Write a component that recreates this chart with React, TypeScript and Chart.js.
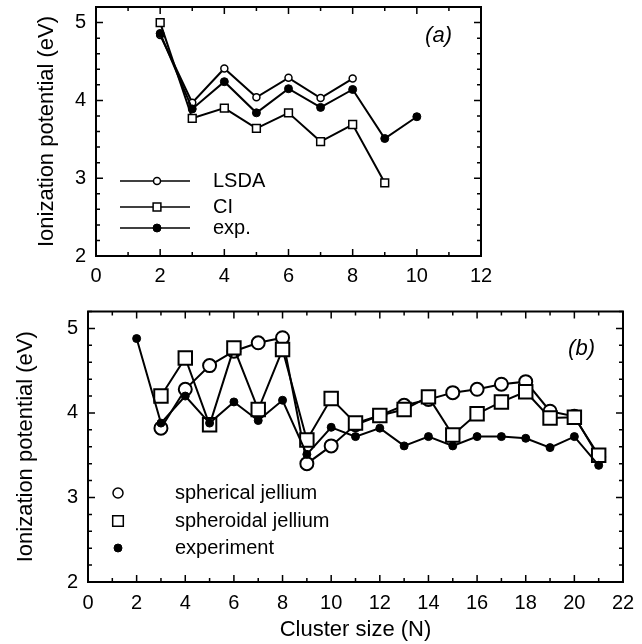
import React, { useEffect, useRef } from 'react';
import { Chart, registerables } from 'chart.js';

Chart.register(...registerables);

const FONT = '"Liberation Sans", Arial, Helvetica, sans-serif';

// ---------- Panel (a) ----------
const N_A = [2, 3, 4, 5, 6, 7, 8, 9, 10];
const LSDA = [4.84, 3.97, 4.41, 4.04, 4.29, 4.03, 4.28, null, null];
const CI = [5.0, 3.77, 3.9, 3.64, 3.84, 3.47, 3.69, 2.94, null];
const EXP_A = [4.86, 3.89, 4.24, 3.84, 4.15, 3.91, 4.14, 3.51, 3.79];
const X_TICKS_A = [0, 2, 4, 6, 8, 10, 12];
const LEGEND_A = ['LSDA', 'CI', 'exp.'];

// ---------- Panel (b) ----------
const N_B = [2, 3, 4, 5, 6, 7, 8, 9, 10, 11, 12, 13, 14, 15, 16, 17, 18, 19, 20, 21];
const EXP_B = [4.88, 3.88, 4.2, 3.88, 4.13, 3.91, 4.15, 3.51, 3.83, 3.72, 3.82, 3.61, 3.72, 3.61, 3.72, 3.72, 3.7, 3.59, 3.72, 3.38];
const SPHERICAL = [null, 3.82, 4.28, 4.56, 4.73, 4.83, 4.89, 3.4, 3.61, 3.86, 3.97, 4.09, 4.16, 4.24, 4.28, 4.34, 4.37, 4.02, 3.96, 3.48];
const SPHEROIDAL = [null, 4.2, 4.65, 3.86, 4.77, 4.04, 4.75, 3.68, 4.17, 3.88, 3.97, 4.04, 4.19, 3.74, 3.99, 4.13, 4.25, 3.94, 3.95, 3.5];
const X_TICKS_B = [0, 2, 4, 6, 8, 10, 12, 14, 16, 18, 20, 22];
const LEGEND_B = ['spherical jellium', 'spheroidal jellium', 'experiment'];

const Y_TICKS = [2, 3, 4, 5];
const Y_TITLE = 'Ionization potential (eV)';
const X_TITLE = 'Cluster size (N)';

const pts = (xs: number[], ys: (number | null)[]) => xs.map((x, i) => ({ x, y: ys[i] }));

function drawMarker(ctx: CanvasRenderingContext2D, style: string, x: number, y: number, r: number, lw: number) {
  ctx.save();
  ctx.lineWidth = lw;
  ctx.strokeStyle = '#000';
  ctx.beginPath();
  if (style === 'rect') {
    const s = r * Math.SQRT1_2;
    ctx.rect(x - s, y - s, 2 * s, 2 * s);
    ctx.fillStyle = '#fff';
  } else {
    ctx.arc(x, y, r, 0, Math.PI * 2);
    ctx.fillStyle = style === 'filled' ? '#000' : '#fff';
  }
  ctx.fill();
  ctx.stroke();
  ctx.restore();
}

const framePlugin = {
  id: 'frame',
  beforeDatasetsDraw(chart: any, _args: any, opts: any) {
    const { ctx, chartArea } = chart;
    const { left, right, top, bottom } = chartArea;
    const xs = chart.scales.x;
    const ys = chart.scales.y;
    ctx.save();
    ctx.strokeStyle = '#000';
    ctx.lineWidth = 2;
    ctx.strokeRect(left, top, right - left, bottom - top);
    ctx.lineWidth = 1.5;
    ctx.beginPath();
    const nx = Math.round((xs.max - xs.min) / opts.xMinor);
    for (let i = 0; i <= nx; i++) {
      const v = xs.min + i * opts.xMinor;
      const p = xs.getPixelForValue(v);
      const major = Math.abs(v / opts.xMajor - Math.round(v / opts.xMajor)) < 1e-6;
      const L = major ? 7 : 4;
      ctx.moveTo(p, bottom);
      ctx.lineTo(p, bottom - L);
      ctx.moveTo(p, top);
      ctx.lineTo(p, top + L);
    }
    const ny = Math.round((ys.max - ys.min) / opts.yMinor);
    for (let i = 0; i <= ny; i++) {
      const v = ys.min + i * opts.yMinor;
      const p = ys.getPixelForValue(v);
      const major = Math.abs(v / opts.yMajor - Math.round(v / opts.yMajor)) < 1e-6;
      const L = major ? 7 : 4;
      ctx.moveTo(left, p);
      ctx.lineTo(left + L, p);
      ctx.moveTo(right, p);
      ctx.lineTo(right - L, p);
    }
    ctx.stroke();
    ctx.fillStyle = '#000';
    ctx.font = `italic 22px ${FONT}`;
    ctx.textAlign = 'right';
    ctx.textBaseline = 'middle';
    ctx.fillText(opts.label, right - opts.labelDx, top + opts.labelDy);
    ctx.restore();
  },
};

const legendPlugin = {
  id: 'customLegend',
  afterDatasetsDraw(chart: any, _args: any, opts: any) {
    const { ctx, chartArea } = chart;
    const { left, bottom } = chartArea;
    ctx.save();
    ctx.font = `20px ${FONT}`;
    ctx.fillStyle = '#000';
    ctx.textAlign = 'left';
    ctx.textBaseline = 'middle';
    opts.items.forEach((it: any) => {
      const y = bottom - it.dy;
      if (opts.line) {
        ctx.strokeStyle = '#000';
        ctx.lineWidth = 1.5;
        ctx.beginPath();
        ctx.moveTo(left + opts.lineX0, y);
        ctx.lineTo(left + opts.lineX1, y);
        ctx.stroke();
      }
      drawMarker(ctx, it.style, left + opts.markerX, y, it.r, it.lw);
      ctx.fillStyle = '#000';
      ctx.fillText(it.label, left + opts.textX, y);
    });
    ctx.restore();
  },
};

function yScale(width: number, titlePad: number, ticks: number[]) {
  return {
    type: 'linear',
    min: 2,
    max: 5.2,
    afterBuildTicks: (s: any) => {
      s.ticks = ticks.map((v) => ({ value: v }));
    },
    afterFit: (s: any) => {
      s.width = width;
      s.paddingTop = 0;
      s.paddingBottom = 0;
    },
    grid: { display: false, drawTicks: false },
    border: { display: false },
    ticks: { padding: 10, color: '#000', font: { family: FONT, size: 20 } },
    title: {
      display: true,
      text: Y_TITLE,
      color: '#000',
      font: { family: FONT, size: 22 },
      padding: { top: titlePad, bottom: 0 },
    },
  };
}

function xScale(max: number, height: number, pad: number, ticks: number[], title: boolean) {
  return {
    type: 'linear',
    min: 0,
    max,
    afterBuildTicks: (s: any) => {
      s.ticks = ticks.map((v) => ({ value: v }));
    },
    afterFit: (s: any) => {
      s.height = height;
      s.paddingLeft = 0;
      s.paddingRight = 0;
    },
    grid: { display: false, drawTicks: false },
    border: { display: false },
    ticks: { padding: pad, color: '#000', maxRotation: 0, autoSkip: false, font: { family: FONT, size: 20 } },
    title: {
      display: title,
      text: X_TITLE,
      color: '#000',
      font: { family: FONT, size: 22 },
      padding: { top: 0, bottom: 1 },
    },
  };
}

export default function App() {
  const refA = useRef<HTMLCanvasElement>(null);
  const refB = useRef<HTMLCanvasElement>(null);

  useEffect(() => {
    document.body.style.margin = '0';
    Chart.defaults.font.family = FONT;
    Chart.defaults.color = '#000';

    const base = {
      borderColor: '#000',
      pointBorderColor: '#000',
      showLine: true,
      fill: false,
      tension: 0,
    };

    const chartA = new Chart(refA.current as HTMLCanvasElement, {
      type: 'line',
      data: {
        datasets: [
          { ...base, label: LEGEND_A[2], data: pts(N_A, EXP_A), order: 0, borderWidth: 2, pointStyle: 'circle', pointRadius: 4, pointBackgroundColor: '#000', pointBorderWidth: 1 },
          { ...base, label: LEGEND_A[0], data: pts(N_A, LSDA), order: 1, borderWidth: 2, pointStyle: 'circle', pointRadius: 3.5, pointBackgroundColor: '#fff', pointBorderWidth: 1.5 },
          { ...base, label: LEGEND_A[1], data: pts(N_A, CI), order: 2, borderWidth: 2, pointStyle: 'rect', pointRadius: 5.5, pointBackgroundColor: '#fff', pointBorderWidth: 1.5 },
        ],
      } as any,
      options: {
        responsive: false,
        animation: false,
        layout: { padding: { left: 0, right: 161, top: 7, bottom: 0 } },
        plugins: {
          legend: { display: false },
          tooltip: { enabled: false },
          frame: { xMinor: 1, xMajor: 2, yMinor: 0.2, yMajor: 1, label: '(a)', labelDx: 29, labelDy: 29 },
          customLegend: {
            line: true,
            lineX0: 24,
            lineX1: 94,
            markerX: 61,
            textX: 117,
            items: [
              { label: LEGEND_A[0], style: 'open', r: 3.5, lw: 1.5, dy: 75 },
              { label: LEGEND_A[1], style: 'rect', r: 5.5, lw: 1.5, dy: 49 },
              { label: LEGEND_A[2], style: 'filled', r: 4, lw: 1, dy: 28 },
            ],
          },
        },
        scales: {
          x: xScale(12, 44, 8, X_TICKS_A, false),
          y: yScale(96, 34, Y_TICKS),
        },
      } as any,
      plugins: [framePlugin, legendPlugin],
    });

    const chartB = new Chart(refB.current as HTMLCanvasElement, {
      type: 'line',
      data: {
        datasets: [
          { ...base, label: LEGEND_B[2], data: pts(N_B, EXP_B), order: 0, borderWidth: 2, pointStyle: 'circle', pointRadius: 4, pointBackgroundColor: '#000', pointBorderWidth: 1 },
          { ...base, label: LEGEND_B[1], data: pts(N_B, SPHEROIDAL), order: 1, borderWidth: 2, pointStyle: 'rect', pointRadius: 9.5, pointBackgroundColor: '#fff', pointBorderWidth: 2 },
          { ...base, label: LEGEND_B[0], data: pts(N_B, SPHERICAL), order: 2, borderWidth: 2, pointStyle: 'circle', pointRadius: 6.5, pointBackgroundColor: '#fff', pointBorderWidth: 2 },
        ],
      } as any,
      options: {
        responsive: false,
        animation: false,
        layout: { padding: { left: 0, right: 19, top: 9, bottom: 0 } },
        plugins: {
          legend: { display: false },
          tooltip: { enabled: false },
          frame: { xMinor: 1, xMajor: 2, yMinor: 0.2, yMajor: 1, label: '(b)', labelDx: 28, labelDy: 37 },
          customLegend: {
            line: false,
            markerX: 30,
            textX: 87,
            items: [
              { label: LEGEND_B[0], style: 'open', r: 5, lw: 1.5, dy: 89 },
              { label: LEGEND_B[1], style: 'rect', r: 7.5, lw: 1.5, dy: 61 },
              { label: LEGEND_B[2], style: 'filled', r: 4, lw: 1, dy: 34 },
            ],
          },
        },
        scales: {
          x: xScale(22, 62, 9, X_TICKS_B, true),
          y: yScale(88, 13, Y_TICKS),
        },
      } as any,
      plugins: [framePlugin, legendPlugin],
    });

    return () => {
      chartA.destroy();
      chartB.destroy();
    };
  }, []);

  return (
    <div style={{ position: 'relative', width: 642, height: 644, background: '#fff' }}>
      <canvas ref={refA} width={642} height={300} style={{ position: 'absolute', left: 0, top: 0, display: 'block' }} />
      <canvas ref={refB} width={642} height={344} style={{ position: 'absolute', left: 0, top: 300, display: 'block' }} />
    </div>
  );
}
